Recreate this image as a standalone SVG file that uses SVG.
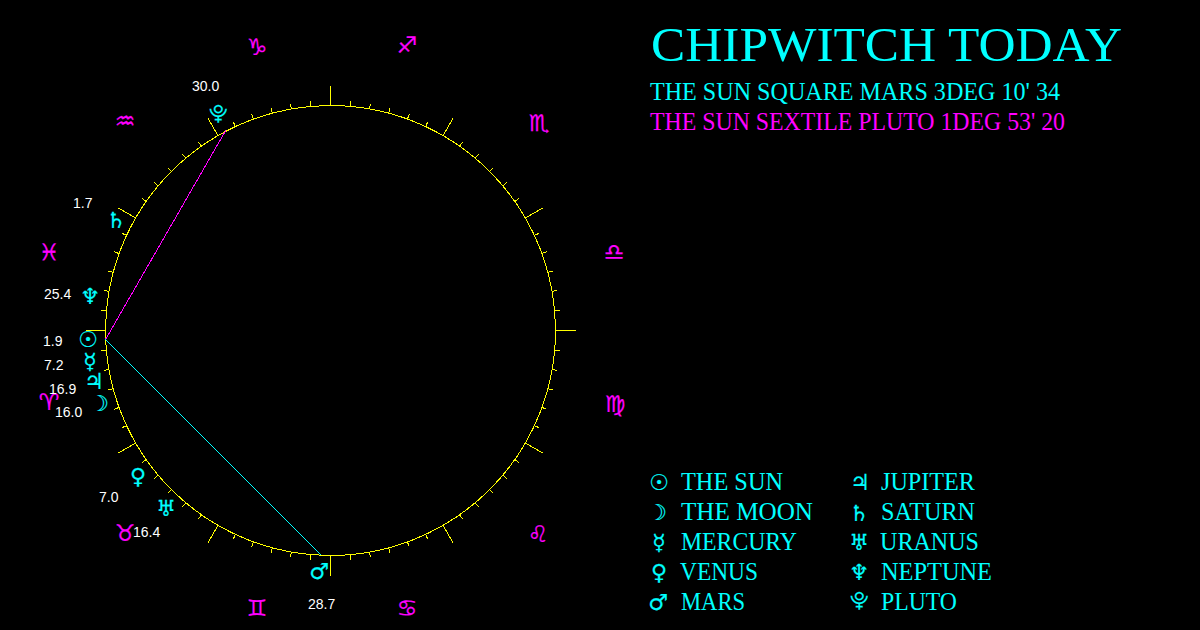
<svg xmlns="http://www.w3.org/2000/svg" width="1200" height="630" viewBox="0 0 1200 630">
<style>
.wheel{fill:none;stroke:#ff0;stroke-width:1;shape-rendering:crispEdges}
.head{font-family:"Liberation Serif",serif;font-size:48px;fill:#0ff}
.sub{font-family:"Liberation Serif",serif;font-size:25px}
.leg{font-family:"Liberation Serif",serif;font-size:25px;fill:#0ff}
.cy{fill:#0ff;stroke:#0ff}.mg{fill:#f0f;stroke:#f0f}
.sub.cy,.sub.mg{stroke:none}
.sym{font-family:"DejaVu Sans",sans-serif;font-size:22px;text-anchor:middle;stroke-width:.2}
.zod{font-size:23px}
.plu{font-size:19px}
.num{font-family:"Liberation Sans",Arial,sans-serif;font-size:14px;fill:#fff}
</style>
<defs>
<line id="s" x1="330.5" y1="105.5" x2="330.5" y2="100.5"/>
<line id="l" x1="330.5" y1="105.5" x2="330.5" y2="85.5"/>
</defs>
<rect width="1200" height="630" fill="#000"/>
<g id="wheel" class="wheel">
<circle cx="330.5" cy="330.5" r="225"/>
<use href="#l" transform="rotate(0 330.5 330.5)"/><use href="#s" transform="rotate(5 330.5 330.5)"/><use href="#s" transform="rotate(10 330.5 330.5)"/><use href="#s" transform="rotate(15 330.5 330.5)"/><use href="#s" transform="rotate(20 330.5 330.5)"/><use href="#s" transform="rotate(25 330.5 330.5)"/>
<use href="#l" transform="rotate(30 330.5 330.5)"/><use href="#s" transform="rotate(35 330.5 330.5)"/><use href="#s" transform="rotate(40 330.5 330.5)"/><use href="#s" transform="rotate(45 330.5 330.5)"/><use href="#s" transform="rotate(50 330.5 330.5)"/><use href="#s" transform="rotate(55 330.5 330.5)"/>
<use href="#l" transform="rotate(60 330.5 330.5)"/><use href="#s" transform="rotate(65 330.5 330.5)"/><use href="#s" transform="rotate(70 330.5 330.5)"/><use href="#s" transform="rotate(75 330.5 330.5)"/><use href="#s" transform="rotate(80 330.5 330.5)"/><use href="#s" transform="rotate(85 330.5 330.5)"/>
<use href="#l" transform="rotate(90 330.5 330.5)"/><use href="#s" transform="rotate(95 330.5 330.5)"/><use href="#s" transform="rotate(100 330.5 330.5)"/><use href="#s" transform="rotate(105 330.5 330.5)"/><use href="#s" transform="rotate(110 330.5 330.5)"/><use href="#s" transform="rotate(115 330.5 330.5)"/>
<use href="#l" transform="rotate(120 330.5 330.5)"/><use href="#s" transform="rotate(125 330.5 330.5)"/><use href="#s" transform="rotate(130 330.5 330.5)"/><use href="#s" transform="rotate(135 330.5 330.5)"/><use href="#s" transform="rotate(140 330.5 330.5)"/><use href="#s" transform="rotate(145 330.5 330.5)"/>
<use href="#l" transform="rotate(150 330.5 330.5)"/><use href="#s" transform="rotate(155 330.5 330.5)"/><use href="#s" transform="rotate(160 330.5 330.5)"/><use href="#s" transform="rotate(165 330.5 330.5)"/><use href="#s" transform="rotate(170 330.5 330.5)"/><use href="#s" transform="rotate(175 330.5 330.5)"/>
<use href="#l" transform="rotate(180 330.5 330.5)"/><use href="#s" transform="rotate(185 330.5 330.5)"/><use href="#s" transform="rotate(190 330.5 330.5)"/><use href="#s" transform="rotate(195 330.5 330.5)"/><use href="#s" transform="rotate(200 330.5 330.5)"/><use href="#s" transform="rotate(205 330.5 330.5)"/>
<use href="#l" transform="rotate(210 330.5 330.5)"/><use href="#s" transform="rotate(215 330.5 330.5)"/><use href="#s" transform="rotate(220 330.5 330.5)"/><use href="#s" transform="rotate(225 330.5 330.5)"/><use href="#s" transform="rotate(230 330.5 330.5)"/><use href="#s" transform="rotate(235 330.5 330.5)"/>
<use href="#l" transform="rotate(240 330.5 330.5)"/><use href="#s" transform="rotate(245 330.5 330.5)"/><use href="#s" transform="rotate(250 330.5 330.5)"/><use href="#s" transform="rotate(255 330.5 330.5)"/><use href="#s" transform="rotate(260 330.5 330.5)"/><use href="#s" transform="rotate(265 330.5 330.5)"/>
<use href="#l" transform="rotate(270 330.5 330.5)"/><use href="#s" transform="rotate(275 330.5 330.5)"/><use href="#s" transform="rotate(280 330.5 330.5)"/><use href="#s" transform="rotate(285 330.5 330.5)"/><use href="#s" transform="rotate(290 330.5 330.5)"/><use href="#s" transform="rotate(295 330.5 330.5)"/>
<use href="#l" transform="rotate(300 330.5 330.5)"/><use href="#s" transform="rotate(305 330.5 330.5)"/><use href="#s" transform="rotate(310 330.5 330.5)"/><use href="#s" transform="rotate(315 330.5 330.5)"/><use href="#s" transform="rotate(320 330.5 330.5)"/><use href="#s" transform="rotate(325 330.5 330.5)"/>
<use href="#l" transform="rotate(330 330.5 330.5)"/><use href="#s" transform="rotate(335 330.5 330.5)"/><use href="#s" transform="rotate(340 330.5 330.5)"/><use href="#s" transform="rotate(345 330.5 330.5)"/><use href="#s" transform="rotate(350 330.5 330.5)"/><use href="#s" transform="rotate(355 330.5 330.5)"/>
</g>
<g id="connectors" stroke-width="1" fill="none" shape-rendering="crispEdges">
<line x1="105.5" y1="339.5" x2="226" y2="130" stroke="#f0f"/>
<line x1="105.5" y1="339.5" x2="321" y2="555" stroke="#0ff"/>
</g>
<g id="zodiac">
<text id="sign-capricorn" class="sym zod mg" x="257" y="55">♑</text>
<text id="sign-sagittarius" class="sym zod mg" x="407" y="53">♐</text>
<text id="sign-scorpio" class="sym zod mg" x="539" y="131">♏</text>
<text id="sign-libra" class="sym zod mg" x="614" y="260">♎</text>
<text id="sign-virgo" class="sym zod mg" x="615" y="412">♍</text>
<text id="sign-leo" class="sym zod mg" x="538" y="542">♌</text>
<text id="sign-cancer" class="sym zod mg" x="407" y="616">♋</text>
<text id="sign-gemini" class="sym zod mg" x="257" y="616">♊</text>
<text id="sign-taurus" class="sym zod mg" x="125" y="541">♉</text>
<text id="sign-aries" class="sym zod mg" x="49" y="410">♈</text>
<text id="sign-pisces" class="sym zod mg" x="49" y="260">♓</text>
<text id="sign-aquarius" class="sym zod mg" x="125" y="129">♒</text>
</g>
<g id="planet-pluto"><text class="sym plu cy" x="218" y="120">⯓</text><text class="num" x="192" y="91">30.0</text></g>
<g id="planet-saturn"><text class="sym cy" x="116" y="228">♄</text><text class="num" x="73" y="208">1.7</text></g>
<g id="planet-neptune"><text class="sym cy" x="90" y="304">♆</text><text class="num" x="44" y="299">25.4</text></g>
<g id="planet-sun"><text class="sym cy" x="88" y="347">☉</text><text class="num" x="43" y="346">1.9</text></g>
<g id="planet-mercury"><text class="sym cy" x="90" y="369">☿</text><text class="num" x="44" y="370">7.2</text></g>
<g id="planet-jupiter"><text class="sym cy" x="94" y="389">♃</text><text class="num" x="49" y="394">16.9</text></g>
<g id="planet-moon"><text class="sym cy" x="99" y="411">☽</text><text class="num" x="55" y="417">16.0</text></g>
<g id="planet-venus"><text class="sym cy" x="138" y="484">♀</text><text class="num" x="99" y="502">7.0</text></g>
<g id="planet-uranus"><text class="sym cy" x="166" y="516">♅</text><text class="num" x="133" y="537">16.4</text></g>
<g id="planet-mars"><text class="sym cy" x="319" y="579">♂</text><text class="num" x="308" y="609">28.7</text></g>
<g id="title">
<text class="head" x="651" y="61" textLength="471" lengthAdjust="spacingAndGlyphs">CHIPWITCH TODAY</text>
<text class="sub cy" x="650" y="100" textLength="410" lengthAdjust="spacingAndGlyphs">THE SUN SQUARE MARS 3DEG 10' 34</text>
<text class="sub mg" x="650" y="130" textLength="415" lengthAdjust="spacingAndGlyphs">THE SUN SEXTILE PLUTO 1DEG 53' 20</text>
</g>
<g id="legend">
<g id="legend-sun"><text class="sym cy" x="659" y="490">☉</text><text class="leg" x="681" y="490" textLength="102" lengthAdjust="spacingAndGlyphs">THE SUN</text></g>
<g id="legend-moon"><text class="sym cy" x="657" y="520">☽</text><text class="leg" x="681" y="520" textLength="132" lengthAdjust="spacingAndGlyphs">THE MOON</text></g>
<g id="legend-mercury"><text class="sym cy" x="659" y="550">☿</text><text class="leg" x="681" y="550" textLength="116" lengthAdjust="spacingAndGlyphs">MERCURY</text></g>
<g id="legend-venus"><text class="sym cy" x="659" y="580">♀</text><text class="leg" x="680" y="580" textLength="78" lengthAdjust="spacingAndGlyphs">VENUS</text></g>
<g id="legend-mars"><text class="sym cy" x="658" y="610">♂</text><text class="leg" x="681" y="610" textLength="64" lengthAdjust="spacingAndGlyphs">MARS</text></g>
<g id="legend-jupiter"><text class="sym cy" x="860" y="490">♃</text><text class="leg" x="881" y="490" textLength="94" lengthAdjust="spacingAndGlyphs">JUPITER</text></g>
<g id="legend-saturn"><text class="sym cy" x="859" y="521">♄</text><text class="leg" x="881" y="520" textLength="94" lengthAdjust="spacingAndGlyphs">SATURN</text></g>
<g id="legend-uranus"><text class="sym cy" x="859" y="550">♅</text><text class="leg" x="880" y="550" textLength="99" lengthAdjust="spacingAndGlyphs">URANUS</text></g>
<g id="legend-neptune"><text class="sym cy" x="859" y="580">♆</text><text class="leg" x="881" y="580" textLength="111" lengthAdjust="spacingAndGlyphs">NEPTUNE</text></g>
<g id="legend-pluto"><text class="sym plu cy" x="859" y="607">⯓</text><text class="leg" x="881" y="610" textLength="76" lengthAdjust="spacingAndGlyphs">PLUTO</text></g>
</g>
</svg>
